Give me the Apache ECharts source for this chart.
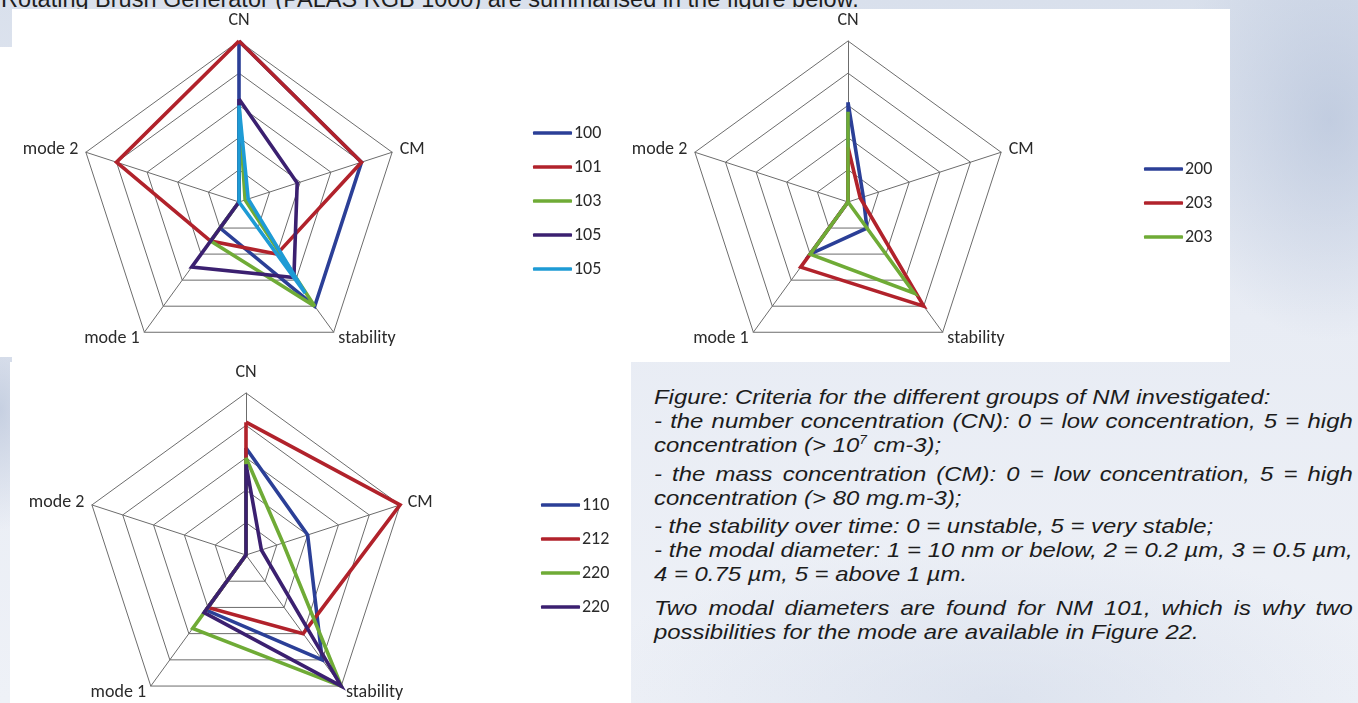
<!DOCTYPE html>
<html><head><meta charset="utf-8">
<script src="https://cdn.jsdelivr.net/npm/echarts@6/dist/echarts.min.js"></script>
<style>
html,body{margin:0;padding:0;width:1358px;height:703px;overflow:hidden;}
body{position:relative;
 background:
  radial-gradient(ellipse 160px 220px at 1330px 120px, rgba(170,185,212,0.55), rgba(170,185,212,0) 100%),
  radial-gradient(ellipse 420px 160px at 1000px 700px, rgba(200,210,228,0.45), rgba(200,210,228,0) 100%),
  radial-gradient(ellipse 60px 120px at 0px 410px, rgba(175,188,212,0.6), rgba(175,188,212,0) 100%),
  linear-gradient(180deg,#d9e0ec 0%,#e8ecf4 45%,#eef1f7 100%);}
#hdr{position:absolute;left:1px;top:-12px;font:23.5px/1 "Liberation Sans",Arial,sans-serif;color:#1e1e1e;white-space:nowrap;}
.wb{position:absolute;background:#fff;}
#cap{position:absolute;left:654px;top:0;width:614px;transform:scaleX(1.138);transform-origin:0 0;font:italic 21px "Liberation Sans",Arial,sans-serif;color:#1c1c1c;}
#cap div{position:absolute;left:0;width:614px;white-space:nowrap;line-height:24px;height:24px;}
#cap div.j{text-align:justify;text-align-last:justify;}
#chart{position:absolute;left:0;top:0;width:1358px;height:703px;}
</style></head>
<body>
<div id="hdr">Rotating Brush Generator (PALAS RGB 1000) are summarised in the figure below.</div>
<div class="wb" style="left:12px;top:9px;width:1218px;height:353px;"></div>
<div class="wb" style="left:0;top:47px;width:12px;height:310px;"></div>
<div class="wb" style="left:10px;top:362px;width:621px;height:341px;"></div>
<div id="cap">
 <div style="top:385px">Figure: Criteria for the different groups of NM investigated:</div>
 <div class="j" style="top:409px">- the number concentration (CN): 0 = low concentration, 5 = high</div>
 <div style="top:433px">concentration (&gt; 10<sup style="font-size:12px;line-height:0">7</sup> cm-3);</div>
 <div class="j" style="top:462px">- the mass concentration (CM): 0 = low concentration, 5 = high</div>
 <div style="top:486px">concentration (&gt; 80 mg.m-3);</div>
 <div style="top:514px">- the stability over time: 0 = unstable, 5 = very stable;</div>
 <div class="j" style="top:538px">- the modal diameter: 1 = 10 nm or below, 2 = 0.2 µm, 3 = 0.5 µm,</div>
 <div style="top:562px">4 = 0.75 µm, 5 = above 1 µm.</div>
 <div class="j" style="top:596px">Two modal diameters are found for NM 101, which is why two</div>
 <div style="top:620px">possibilities for the mode are available in Figure 22.</div>
</div>
<div id="chart"></div>
<script>
// axes in reading order (clockwise from top)
const indicatorNames = ['CN', 'CM', 'stability', 'mode 1', 'mode 2'];
const axisMax = 5;

// chart 1 (top left)
const chart1Names = ['100', '101', '103', '105', '105'];
const c1s100 = [5, 4, 4, 1, 0];
const c1s101 = [5, 4, 2, 1.5, 4];
const c1s103 = [3, 0.2, 4, 1.5, 0];
const c1s105a = [3.2, 1.9, 2.9, 2.5, 0];
const c1s105b = [3, 0.3, 3.5, 0, 0];

// chart 2 (top right)
const chart2Names = ['200', '203', '203'];
const c2s200 = [3.1, 0.5, 1, 2, 0];
const c2s203a = [1.7, 0.4, 4, 2.5, 0];
const c2s203b = [2.8, 0, 3.5, 2, 0];

// chart 3 (bottom left)
const chart3Names = ['110', '212', '220', '220'];
const c3s110 = [3.3, 2, 4, 2.1, 0];
const c3s212 = [4.1, 5, 3, 2, 0];
const c3s220a = [3, 1.2, 5, 2.8, 0];
const c3s220b = [2.8, 0.5, 5, 2.2, 0];

const BLUE = '#2b3f97', RED = '#b1222b', GREEN = '#6fab36', PURPLE = '#3b2070', CYAN = '#1e9bd5';

// ECharts places indicators counter-clockwise; reorder to get the clockwise reading order
const drawOrder = [0, 4, 3, 2, 1];
const reorder = v => drawOrder.map(i => v[i]);

const FONT = 'Carlito, Calibri, Lato, sans-serif';
const TXT = '#2a2a2a';

function makeRadar(center, radius) {
  return {
    center: center, radius: radius, startAngle: 90, splitNumber: 5, shape: 'polygon',
    indicator: drawOrder.map(i => ({ name: indicatorNames[i], min: 0, max: axisMax })),
    axisNameGap: 8,
    axisName: {
      color: TXT, fontSize: 18, fontFamily: FONT,
      formatter: n => n === 'CN' ? '{cn|' + n + '}' : n,
      rich: { cn: { padding: [0, 0, 4, 0], fontSize: 18, fontFamily: FONT, color: TXT } }
    },
    splitLine: { lineStyle: { color: '#6c6c6c', width: 1 } },
    splitArea: { show: false },
    axisLine: { lineStyle: { color: '#6c6c6c', width: 1 } },
    axisTick: { show: false },
    axisLabel: { show: false }
  };
}

function makeSeries(radarIndex, names, values, colors, tag) {
  return {
    type: 'radar', radarIndex: radarIndex, symbol: 'none', silent: true,
    data: names.map((n, i) => ({
      name: n + '#' + tag + i,
      value: reorder(values[i]),
      lineStyle: { color: colors[i], width: 3.6, join: 'miter', miterLimit: 4 },
      itemStyle: { color: colors[i] },
      areaStyle: { opacity: 0 }
    }))
  };
}

function makeLegend(left, top, names, tag) {
  return {
    orient: 'vertical', left: left, top: top, padding: 0,
    itemWidth: 39, itemHeight: 3.5, itemGap: 16, icon: 'roundRect',
    selectedMode: false,
    data: names.map((n, i) => n + '#' + tag + i),
    formatter: n => n.split('#')[0],
    textStyle: { fontSize: 18, lineHeight: 16, color: TXT, fontFamily: FONT, padding: [0, 0, 0, -3] }
  };
}

const chart = echarts.init(document.getElementById('chart'), null, { renderer: 'canvas' });
chart.setOption({
  animation: false,
  backgroundColor: 'transparent',
  radar: [
    makeRadar([239, 202], 161),
    makeRadar([848, 202], 161),
    makeRadar([246, 555], 162)
  ],
  legend: [
    makeLegend(533, 124, chart1Names, 'a'),
    makeLegend(1144, 160, chart2Names, 'b'),
    makeLegend(541, 496, chart3Names, 'c')
  ],
  series: [
    makeSeries(0, chart1Names, [c1s100, c1s101, c1s103, c1s105a, c1s105b], [BLUE, RED, GREEN, PURPLE, CYAN], 'a'),
    makeSeries(1, chart2Names, [c2s200, c2s203a, c2s203b], [BLUE, RED, GREEN], 'b'),
    makeSeries(2, chart3Names, [c3s110, c3s212, c3s220a, c3s220b], [BLUE, RED, GREEN, PURPLE], 'c')
  ]
});
</script>
</body></html>
